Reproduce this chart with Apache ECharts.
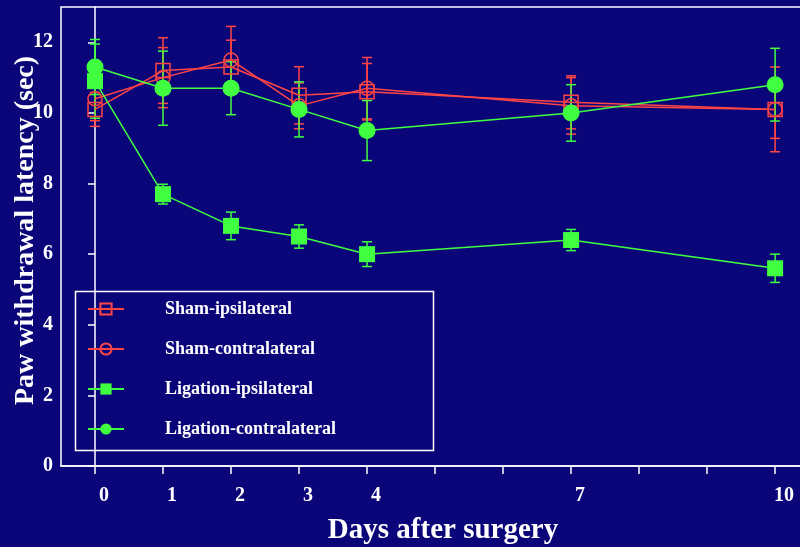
<!DOCTYPE html>
<html>
<head>
<meta charset="utf-8">
<script src="https://cdn.jsdelivr.net/npm/echarts@6/dist/echarts.min.js"></script>
<style>html,body{margin:0;padding:0;background:#0a0679;}#c{width:800px;height:547px;}</style>
</head>
<body>
<div id="c"></div>
<script>
var days = [0, 1, 2, 3, 4, 7, 10];
var xTickValues = [0, 1, 2, 3, 4, 5, 6, 7, 8, 9, 10];
var xLabelValues = [0, 1, 2, 3, 4, 7, 10];
var seriesNames = ['Sham-ipsilateral', 'Sham-contralateral', 'Ligation-ipsilateral', 'Ligation-contralateral'];
var shamIpsi = [10.1, 11.2, 11.3, 10.5, 10.6, 10.3, 10.1];
var shamIpsiErr = [0.48, 0.93, 0.76, 0.81, 0.8, 0.75, 1.2];
var shamContra = [10.4, 11.0, 11.5, 10.2, 10.7, 10.2, 10.1];
var shamContraErr = [0.62, 0.85, 0.95, 0.65, 0.87, 0.8, 0.82];
var ligIpsi = [10.9, 7.7, 6.8, 6.5, 6.0, 6.4, 5.6];
var ligIpsiErr = [1.05, 0.28, 0.39, 0.33, 0.35, 0.3, 0.4];
var ligContra = [11.3, 10.7, 10.7, 10.1, 9.5, 10.0, 10.8];
var ligContraErr = [0.78, 1.05, 0.75, 0.78, 0.85, 0.8, 1.03];

var RED = '#ff4545';
var GREEN = '#40ff40';
var BG = '#0a0679';
var FONT = 'Liberation Serif';

function pts(vals) { return days.map(function (d, i) { return [d, vals[i]]; }); }
function errPts(vals, errs) { return days.map(function (d, i) { return [d, vals[i], errs[i]]; }); }

function errSeries(vals, errs, color) {
  return {
    type: 'custom',
    z: 1,
    silent: true,
    data: errPts(vals, errs),
    encode: { x: 0, y: 1 },
    renderItem: function (params, api) {
      var x = api.value(0), y = api.value(1), e = api.value(2);
      var top = api.coord([x, y + e]);
      var bot = api.coord([x, y - e]);
      var hw = 5;
      var st = { stroke: color, lineWidth: 1.5 };
      return {
        type: 'group',
        children: [
          { type: 'line', shape: { x1: top[0], y1: top[1], x2: bot[0], y2: bot[1] }, style: st },
          { type: 'line', shape: { x1: top[0] - hw, y1: top[1], x2: top[0] + hw, y2: top[1] }, style: st },
          { type: 'line', shape: { x1: bot[0] - hw, y1: bot[1], x2: bot[0] + hw, y2: bot[1] }, style: st }
        ]
      };
    }
  };
}

function lineSeries(name, vals, color, symbol, size, filled) {
  return {
    name: name,
    type: 'line',
    z: 3,
    data: pts(vals),
    symbol: symbol,
    symbolSize: size,
    showAllSymbol: true,
    lineStyle: { color: color, width: 1.5 },
    itemStyle: filled ? { color: color, borderWidth: 0 } : { color: 'rgba(0,0,0,0)', borderColor: color, borderWidth: 1.5 }
  };
}

var chart = echarts.init(document.getElementById('c'), null, { renderer: 'canvas' });
chart.setOption({
  backgroundColor: BG,
  animation: false,
  grid: { left: 61, right: -3, top: 7, bottom: 81, show: true, borderColor: '#ffffff', borderWidth: 1.5, backgroundColor: BG, containLabel: false, outerBoundsMode: 'none' },
  legend: {
    data: seriesNames,
    orient: 'vertical',
    left: 82,
    top: 295,
    itemWidth: 36,
    itemHeight: 14,
    itemGap: 22,
    textStyle: { color: '#ffffff', fontFamily: FONT, fontWeight: 'bold', fontSize: 18, lineHeight: 14, padding: [0, 0, 0, 36] }
  },
  graphic: [{
    type: 'rect',
    left: 73, top: 289,
    shape: { width: 358, height: 159 },
    style: { fill: 'none', stroke: '#ffffff', lineWidth: 1.5 },
    z: 0
  }],
  xAxis: {
    type: 'value',
    min: -0.5,
    max: 10.41,
    name: 'Days after surgery',
    nameLocation: 'middle',
    nameGap: 50,
    nameMoveOverlap: false,
    nameTextStyle: { color: '#ffffff', fontFamily: FONT, fontWeight: 'bold', fontSize: 29, padding: [0, 0, 0, 22] },
    axisLine: { lineStyle: { color: '#ffffff', width: 1.5 } },
    axisTick: { show: true, inside: false, length: 8, customValues: xTickValues, lineStyle: { color: '#ffffff', width: 1.5 } },
    axisLabel: { customValues: xLabelValues, color: '#ffffff', fontFamily: FONT, fontWeight: 'bold', fontSize: 20, margin: 20, padding: [0, 0, 0, 18] },
    splitLine: { show: false }
  },
  yAxis: {
    type: 'value',
    min: 0,
    max: 13,
    interval: 2,
    name: 'Paw withdrawal latency (sec)',
    nameLocation: 'middle',
    nameGap: 21,
    nameMoveOverlap: false,
    nameTextStyle: { color: '#ffffff', fontFamily: FONT, fontWeight: 'bold', fontSize: 28, padding: [0, 0, 0, 12] },
    axisLine: { show: true, lineStyle: { color: '#ffffff', width: 1.5 } },
    axisTick: { show: true, length: 7, lineStyle: { color: '#ffffff', width: 1.5 } },
    axisLabel: { color: '#ffffff', fontFamily: FONT, fontWeight: 'bold', fontSize: 20, margin: 8, showMaxLabel: false },
    splitLine: { show: false }
  },
  series: [
    errSeries(shamIpsi, shamIpsiErr, RED),
    errSeries(shamContra, shamContraErr, RED),
    errSeries(ligIpsi, ligIpsiErr, GREEN),
    errSeries(ligContra, ligContraErr, GREEN),
    lineSeries(seriesNames[0], shamIpsi, RED, 'rect', 14, false),
    lineSeries(seriesNames[1], shamContra, RED, 'circle', 14, false),
    lineSeries(seriesNames[2], ligIpsi, GREEN, 'rect', 16, true),
    lineSeries(seriesNames[3], ligContra, GREEN, 'circle', 17, true)
  ]
});
</script>
</body>
</html>
